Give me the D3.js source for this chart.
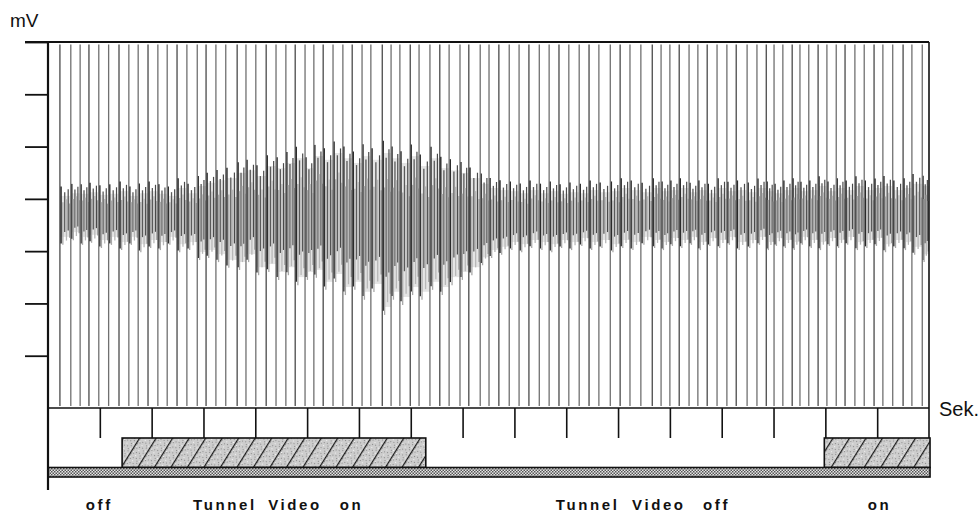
<!DOCTYPE html>
<html><head><meta charset="utf-8">
<script src="https://cdn.jsdelivr.net/npm/d3@7"></script>
<style>
html,body{margin:0;padding:0;background:#fff;}
svg{display:block;font-family:"Liberation Sans",Arial,sans-serif;}
</style></head>
<body>
<svg id="chart" width="980" height="514"></svg>
<script>
// ---- data ----
const spikeTimes = [0.23,0.44,0.62,0.79,0.98,1.17,1.37,1.56,1.74,1.93,
2.12,2.30,2.49,2.68,2.88,3.05,3.24,3.43,3.65,3.82,
4.01,4.21,4.40,4.59,4.77,4.96,5.13,5.31,5.50,5.69,
5.87,6.06,6.23,6.45,6.62,6.79,6.99,7.16,7.37,7.56,
7.74,7.95,8.12,8.34,8.51,8.70,8.90,9.09,9.28,9.48,
9.67,9.86,10.05,10.25,10.44,10.63,10.85,11.04,11.23,11.44,
11.66,11.83,12.00,12.18,12.37,12.54,12.72,12.91,13.10,13.28,
13.49,13.68,13.86,14.01,14.18,14.36,14.51,14.68,14.86,15.03,
15.21,15.38,15.57,15.75,15.94,16.11,16.30,16.50,16.67,16.87];
const bandHi = [4.21,4.26,4.25,4.28,4.23,4.25,4.30,4.21,4.26,4.30,
4.25,4.21,4.36,4.26,4.40,4.46,4.51,4.55,4.65,4.70,
4.59,4.78,4.74,4.84,4.93,4.74,4.97,4.90,5.03,4.93,
4.84,4.97,4.90,5.03,4.93,4.84,4.97,4.78,4.93,4.74,
4.70,4.65,4.55,4.44,4.36,4.32,4.30,4.26,4.32,4.26,
4.30,4.25,4.28,4.26,4.32,4.28,4.30,4.36,4.32,4.28,
4.36,4.30,4.32,4.36,4.28,4.32,4.26,4.36,4.30,4.32,
4.28,4.36,4.30,4.26,4.32,4.36,4.30,4.32,4.40,4.30,
4.36,4.32,4.40,4.32,4.36,4.40,4.32,4.36,4.44,4.40];
const bandLo = [3.12,3.21,3.12,3.16,3.06,3.12,3.02,3.12,2.98,3.06,
3.02,3.12,2.98,3.02,2.83,2.87,2.79,2.68,2.64,2.79,
2.54,2.60,2.45,2.54,2.35,2.45,2.49,2.26,2.41,2.16,
2.26,2.07,2.22,1.78,2.07,1.97,2.16,2.07,2.26,2.16,
2.35,2.45,2.54,2.73,2.87,2.93,3.02,2.98,3.06,3.02,
2.98,3.06,3.02,3.10,3.02,3.06,2.98,3.06,3.02,3.12,
3.06,3.02,3.10,3.06,3.12,3.02,3.10,3.06,3.12,3.02,
3.06,3.12,3.02,3.10,3.06,3.02,3.12,3.06,3.02,3.10,
3.06,3.12,3.02,3.06,3.10,2.98,3.06,3.02,2.93,2.79];
const spikeMax = 6.95, spikeMin = 0.04;
const mvTicks = [1,2,3,4,5,6,7];
const timeTicks = [1,2,3,4,5,6,7,8,9,10,11,12,13,14,15,16];
const periods = [{start:1.43,end:7.29},{start:14.98,end:17.02}];
const labels = [
  {text:"off",t:0.73},{text:"Tunnel",t:2.80},{text:"Video",t:4.25},{text:"on",t:5.63},
  {text:"Tunnel",t:9.80},{text:"Video",t:11.27},{text:"off",t:12.64},{text:"on",t:15.82}];

// ---- drawing ----
const svg = d3.select("#chart");
const x = d3.scaleLinear().domain([0,17]).range([48,929]);
const y = d3.scaleLinear().domain([0,7]).range([408,42]);

const defs = svg.append("defs");
const hp = defs.append("pattern").attr("id","hatch").attr("patternUnits","userSpaceOnUse")
  .attr("width",14).attr("height",6).attr("patternTransform","rotate(32)");
hp.append("rect").attr("width",14).attr("height",6).attr("fill","#cdcdcd");
[[3,1],[8,4],[11,2],[5,5],[1,3],[10,0]].forEach(([a,b])=>hp.append("rect").attr("x",a).attr("y",b).attr("width",1).attr("height",1).attr("fill","#8a8a8a"));
[[6,2],[12,5],[2,0]].forEach(([a,b])=>hp.append("rect").attr("x",a).attr("y",b).attr("width",1).attr("height",1).attr("fill","#f4f4f4"));
hp.append("line").attr("x1",0.6).attr("x2",0.6).attr("y1",0).attr("y2",6).attr("stroke","#1a1a1a").attr("stroke-width",1.2);

const cp = defs.append("pattern").attr("id","checker").attr("patternUnits","userSpaceOnUse")
  .attr("width",3).attr("height",3);
cp.append("rect").attr("width",3).attr("height",3).attr("fill","#e6e6e6");
cp.append("rect").attr("width",1.5).attr("height",1.5).attr("fill","#555");
cp.append("rect").attr("x",1.5).attr("y",1.5).attr("width",1.5).attr("height",1.5).attr("fill","#555");

// band (noisy baseline) - light tone
const beats = spikeTimes.map((t,i)=>({t, t2: i<spikeTimes.length-1 ? spikeTimes[i+1] : Math.min(17, t+0.19), hi:bandHi[i], lo:bandLo[i]}));
const gBand = svg.append("g");
gBand.selectAll("rect.tone").data(beats).join("rect").attr("class","tone")
  .attr("x",d=>x(d.t)).attr("width",d=>x(d.t2)-x(d.t))
  .attr("y",d=>y(d.hi)+8).attr("height",d=>Math.max(0,y(d.lo)-y(d.hi)-16))
  .attr("fill","#e4e4e4");
// band texture strokes with a fixed template inside every beat interval
const tplPos = [0.10,0.27,0.44,0.60,0.76,0.90];
const tplUp  = [1.05,0.5,0.85,0.6,0.95,0.45];
const tplDn  = [0.95,1.0,0.55,0.85,0.5,0.75];
const tplCol = ["#2a2a2a","#a8a8a8","#5a5a5a","#b8b8b8","#4a4a4a","#9a9a9a"];
const tplW   = [1.6,1.3,1.3,1.3,1.2,1.3];
beats.forEach(d=>{
  const mid=(d.hi+d.lo)/2, up=d.hi-mid, dn=mid-d.lo;
  tplPos.forEach((p,k)=>{
    const tx = d.t + p*(d.t2-d.t);
    gBand.append("line").attr("x1",x(tx)).attr("x2",x(tx))
      .attr("y1",y(mid+up*tplUp[k])).attr("y2",y(mid-dn*tplDn[k]))
      .attr("stroke",tplCol[k]).attr("stroke-width",tplW[k]);
  });
});

// spikes
svg.append("g").selectAll("line").data(spikeTimes).join("line")
  .attr("x1",d=>x(d)).attr("x2",d=>x(d))
  .attr("y1",y(spikeMax)).attr("y2",y(spikeMin))
  .attr("stroke",(d,i)=> i%3===0 ? "#4a4a4a" : "#707070").attr("stroke-width",1.3);

// y axis ticks
const yAx = svg.append("g").attr("transform","translate(48,0)")
  .call(d3.axisLeft(y).tickValues(mvTicks).tickSize(23).tickFormat(""));
yAx.select(".domain").remove();
yAx.selectAll("line").attr("stroke","#111").attr("stroke-width",1.8);

// frame
svg.append("line").attr("x1",25).attr("x2",929).attr("y1",y(7)).attr("y2",y(7)).attr("stroke","#111").attr("stroke-width",1.8);
svg.append("line").attr("x1",x(17)).attr("x2",x(17)).attr("y1",y(7)).attr("y2",438).attr("stroke","#111").attr("stroke-width",1.6);
svg.append("line").attr("x1",48).attr("x2",x(17)).attr("y1",y(0)).attr("y2",y(0)).attr("stroke","#111").attr("stroke-width",1.6);

// time ticks
const xAx = svg.append("g").attr("transform",`translate(0,${y(0)})`)
  .call(d3.axisBottom(x).tickValues(timeTicks).tickSize(30).tickFormat(""));
xAx.select(".domain").remove();
xAx.selectAll("line").attr("stroke","#111").attr("stroke-width",1.6);

// stimulus periods
svg.append("g").selectAll("rect").data(periods).join("rect")
  .attr("x",d=>x(d.start)).attr("width",d=>x(d.end)-x(d.start))
  .attr("y",438).attr("height",29.5)
  .attr("fill","url(#hatch)").attr("stroke","#111").attr("stroke-width",1.6);

// bottom strip
svg.append("rect").attr("x",48).attr("y",467.5).attr("width",x(17.02)-48).attr("height",9.5)
  .attr("fill","url(#checker)").attr("stroke","#111").attr("stroke-width",1.6);

// left axis line
svg.append("line").attr("x1",48).attr("x2",48).attr("y1",y(7)-1).attr("y2",490).attr("stroke","#111").attr("stroke-width",2.2);

// texts
svg.append("text").attr("x",10).attr("y",27).attr("font-size",19).attr("fill","#111").text("mV");
svg.append("text").attr("x",939).attr("y",416).attr("font-size",20).attr("fill","#111").text("Sek.");
svg.append("g").selectAll("text").data(labels).join("text")
  .attr("x",d=>x(d.t)).attr("y",510).attr("font-size",15).attr("font-weight",700)
  .attr("letter-spacing",2.6).attr("fill","#111").text(d=>d.text);
</script>
</body></html>
